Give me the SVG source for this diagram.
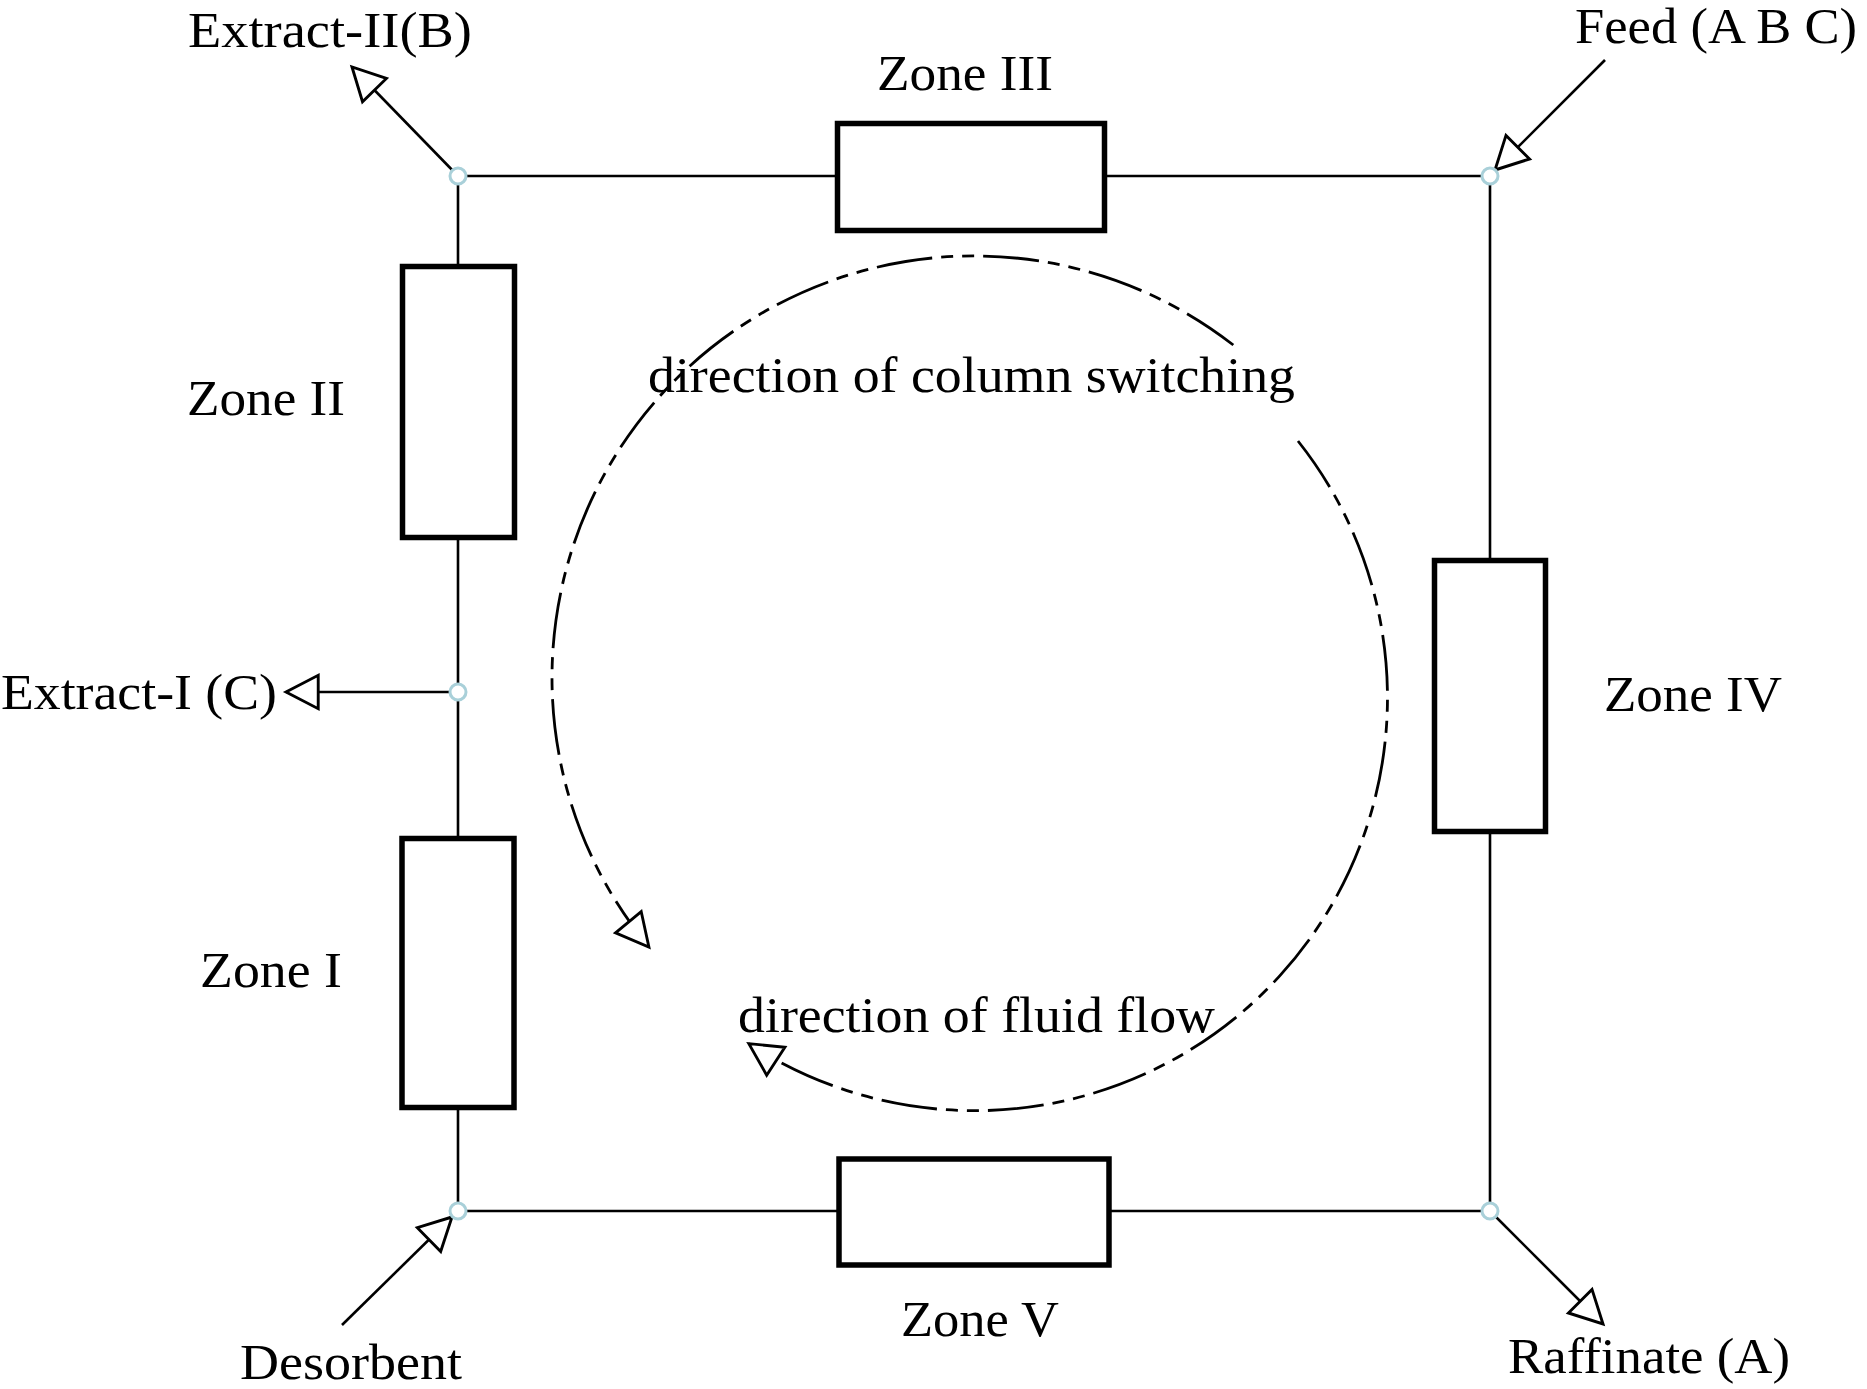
<svg xmlns="http://www.w3.org/2000/svg" width="1867" height="1389" viewBox="0 0 1867 1389">
<style>
.ln{stroke:#000;stroke-width:2.6;fill:none}
.zone{fill:#fff;stroke:#000;stroke-width:5.5}
.node{fill:#fff;stroke:#a9d0d9;stroke-width:3}
.arc{fill:none;stroke:#000;stroke-width:2.8;stroke-dasharray:56 9 12 9 12 9}
.t{font-family:"Liberation Serif","Times New Roman",serif;font-size:50px;fill:#000}
</style>
<defs>
<marker id="ah" markerUnits="userSpaceOnUse" markerWidth="40" markerHeight="40" viewBox="-32 -18 36 36" refX="0" refY="0" orient="auto">
<path d="M0,0 L-29,-15 L-29,15 Z" fill="#fff" stroke="#000" stroke-width="2.6" stroke-linejoin="miter"/>
</marker>
</defs>
<rect width="1867" height="1389" fill="#fff"/>
<g id="connectors">
<path class="ln" d="M458,176 H1490 V1211 H458 Z"/>
<line class="ln" x1="458" y1="176" x2="352" y2="67" marker-end="url(#ah)"/>
<line class="ln" x1="1605" y1="60" x2="1495" y2="170" marker-end="url(#ah)"/>
<line class="ln" x1="458" y1="692" x2="286" y2="692" marker-end="url(#ah)"/>
<line class="ln" x1="342" y1="1325" x2="452" y2="1217" marker-end="url(#ah)"/>
<line class="ln" x1="1490" y1="1211" x2="1603" y2="1324" marker-end="url(#ah)"/>
<path class="arc" d="M1233.3,345 A422,422 0 0 0 648.9,947" marker-end="url(#ah)"/>
<path class="arc" d="M1298,441 A413,413 0 0 1 748.8,1043.6" marker-end="url(#ah)"/>
</g>
<g id="zone3"><rect class="zone" x="837.5" y="123.5" width="267" height="107"/><text class="t" x="877" y="90" textLength="176" lengthAdjust="spacingAndGlyphs">Zone III</text></g>
<g id="zone2"><rect class="zone" x="402.5" y="266.5" width="112" height="271"/><text class="t" x="187" y="415" textLength="158" lengthAdjust="spacingAndGlyphs">Zone II</text></g>
<g id="zone1"><rect class="zone" x="402" y="838.5" width="112" height="269"/><text class="t" x="200" y="987" textLength="142" lengthAdjust="spacingAndGlyphs">Zone I</text></g>
<g id="zone4"><rect class="zone" x="1434.5" y="560.5" width="111" height="271"/><text class="t" x="1604" y="711" textLength="178" lengthAdjust="spacingAndGlyphs">Zone IV</text></g>
<g id="zone5"><rect class="zone" x="839" y="1159" width="270" height="106"/><text class="t" x="901" y="1336" textLength="158" lengthAdjust="spacingAndGlyphs">Zone V</text></g>
<g id="node-tl"><circle class="node" cx="458" cy="176" r="8"/></g>
<g id="node-tr"><circle class="node" cx="1490" cy="176" r="8"/></g>
<g id="node-ext1"><circle class="node" cx="458" cy="692" r="8"/></g>
<g id="node-bl"><circle class="node" cx="458" cy="1211" r="8"/></g>
<g id="node-br"><circle class="node" cx="1490" cy="1211" r="8"/></g>
<g id="labels">
<text class="t" x="188" y="47" textLength="284" lengthAdjust="spacingAndGlyphs">Extract-II(B)</text>
<text class="t" x="1575" y="43" textLength="282" lengthAdjust="spacingAndGlyphs">Feed (A B C)</text>
<text class="t" x="1" y="709" textLength="276" lengthAdjust="spacingAndGlyphs">Extract-I (C)</text>
<text class="t" x="240" y="1379" textLength="222" lengthAdjust="spacingAndGlyphs">Desorbent</text>
<text class="t" x="1508" y="1373" textLength="282" lengthAdjust="spacingAndGlyphs">Raffinate (A)</text>
<text class="t" x="648" y="392" textLength="647" lengthAdjust="spacingAndGlyphs">direction of column switching</text>
<text class="t" x="738" y="1032" textLength="477" lengthAdjust="spacingAndGlyphs">direction of fluid flow</text>
</g>
</svg>
